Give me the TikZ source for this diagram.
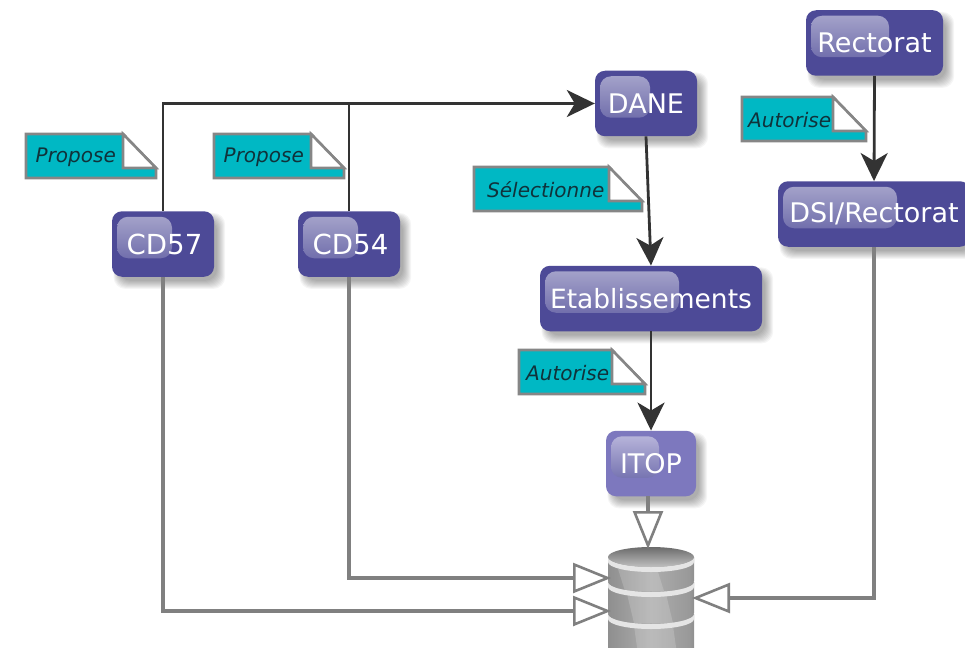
\documentclass[tikz,border=0pt]{standalone}
\usepackage{fontspec}
\setmainfont{DejaVu Sans}
\usetikzlibrary{arrows.meta,backgrounds,positioning}
\definecolor{boxblue}{HTML}{4D4A97}
\definecolor{boxlight}{HTML}{7D78BE}
\definecolor{notecyan}{HTML}{00B8C4}
\definecolor{notegrey}{HTML}{868686}
\definecolor{linegrey}{HTML}{808080}
\definecolor{linedark}{HTML}{333333}
\definecolor{notetextcol}{HTML}{10323A}
\pgfdeclarehorizontalshading{dbside}{100bp}{color(0bp)=(black!72); color(8bp)=(black!62); color(25bp)=(black!44); color(50bp)=(black!32); color(72bp)=(black!40); color(90bp)=(black!62); color(100bp)=(black!74)}
\tikzset{
  glossy/.style={path picture={
    \shade[top color=#1,bottom color=white!8!boxblue,rounded corners=11pt]
      ([shift={(5,5.5)}]path picture bounding box.north west) rectangle
      ([shift={(5+\glossw,47)}]path picture bounding box.north west);}},
  rolebox/.style={rounded corners=10pt,fill=boxblue,text=white,
    minimum height=65.5pt,inner sep=0pt,font=\fontsize{27}{30}\selectfont},
  flowline/.style={draw=linedark,line width=2.8pt,-{Stealth[length=28pt,width=27pt,inset=8pt]}},
  storeline/.style={draw=linegrey,line width=4pt,-{Triangle[open,length=38pt,width=30pt,line width=2.6pt,fill=white,color=linegrey]}},
  plainlink/.style={draw=linedark,line width=2.8pt},
  noteshape/.style={draw=notegrey,fill=notecyan,line width=2.6pt,line join=miter},
  notefold/.style={draw=notegrey,fill=white,line width=2.6pt,line join=miter},
  notetext/.style={anchor=west,inner sep=0pt,text=notetextcol,font=\fontsize{20}{24}\selectfont\itshape},
}
% name, x1, y1, x2, text offset, text
\newcommand{\notemark}[6]{%
  \draw[noteshape] (#2,#3) -- ({#4-33},#3) -- (#4,{#3+34}) -- (#4,{#3+44}) -- (#2,{#3+44}) -- cycle;
  \draw[notefold] ({#4-33},#3) -- (#4,{#3+34}) -- ({#4-33},{#3+34}) -- cycle;
  \node[notetext] (#1) at ({#2+#5},{#3+23}) {#6};}
% y of the top-ellipse edge, bottom y of the side edge, glare shift
\newcommand{\dbdisc}[3]{%
  \shade[shading=dbside] (608,#1) -- (608,#2) arc[x radius=43,y radius=10,start angle=180,end angle=0] -- (694,#1) -- cycle;
  \fill[white,opacity=.17] ({618+#3},{#1+12}) -- ({657+#3},{#1+12}) -- ({664+#3},{#2+10}) -- ({625+#3},{#2+10}) -- cycle;
  \fill[black!10] (608,#1) arc[x radius=43,y radius=10,start angle=180,end angle=0] -- (694,{#1+5}) arc[x radius=43,y radius=10,start angle=0,end angle=180] -- cycle;}
\newcommand{\softshade}[1]{%
  \foreach \e in {1,2,...,9}
    \fill[black,opacity=.04,rounded corners=12pt]
      ([shift={({8-0.7*\e},{9-0.8*\e})}]#1.north west) rectangle ([shift={({2+\e},{3+\e})}]#1.south east);}
\begin{document}
\begin{tikzpicture}[x=1pt,y=-1pt]
\useasboundingbox (0,0) rectangle (965,647);
\clip (0,0) rectangle (965,647);

% boxes
\def\glossw{55}
\node[rolebox,glossy=white!52!boxblue,minimum width=102pt,font=\fontsize{27.6}{30}\selectfont] (cd57) at (163,244) {\hspace*{3pt}CD57};
\node[rolebox,glossy=white!52!boxblue,minimum width=102pt,font=\fontsize{27.6}{30}\selectfont] (cd54) at (349,244) {\hspace*{3pt}CD54};
\def\glossw{50}
\node[rolebox,glossy=white!52!boxblue,minimum width=102pt] (dane) at (646,103.5) {DANE};
\def\glossw{78}
\node[rolebox,glossy=white!52!boxblue,minimum width=137pt] (rectorat) at (874.5,43) {Rectorat};
\def\glossw{114}
\node[rolebox,glossy=white!52!boxblue,minimum width=192pt] (dsi) at (874,214) {DSI/Rectorat};
\def\glossw{134}
\node[rolebox,glossy=white!52!boxblue,minimum width=222pt,font=\fontsize{26.5}{30}\selectfont] (etab) at (651,298.5) {Etablissements};
\def\glossw{48}
\node[rolebox,fill=boxlight,glossy=white!50!boxlight,minimum width=90pt] (itop) at (651,463.5) {ITOP};

\begin{scope}[on background layer]
  \fill[white] (0,0) rectangle (965,647);
  \softshade{cd57}\softshade{cd54}\softshade{dane}\softshade{rectorat}\softshade{dsi}\softshade{etab}\softshade{itop}
\end{scope}

% database
\coordinate (dbtop) at (648,549);
\coordinate (dbleftA) at (611,578);
\coordinate (dbleftB) at (611,611);
\coordinate (dbright) at (692,598);
\dbdisc{614}{665}{16}
\dbdisc{582}{613}{9}
\dbdisc{557}{581}{0}
\shade[top color=black!58,bottom color=black!25] (651,557) ellipse[x radius=43,y radius=10];

% flows
\draw[plainlink] (cd57.north) |- (cd54.north |- dane.west);
\draw[flowline] (cd54.north) |- (dane.west);
\draw[flowline] (dane.south) -- (etab.north);
\draw[flowline] (etab.south) -- (itop.north);
\draw[flowline] (rectorat.south) -- (dsi.north);

% store links
\draw[storeline] (itop.south -| dbtop) -- (dbtop);
\draw[storeline] (cd54.south) |- (dbleftA);
\draw[storeline] (cd57.south) |- (dbleftB);
\draw[storeline] (dsi.south) |- (dbright);

% notes
\notemark{n1}{26}{134}{156}{9.5}{Propose}
\notemark{n2}{214}{134}{344}{9.5}{Propose}
\notemark{n3}{474}{167}{642}{13}{Sélectionne}
\notemark{n4}{519}{350}{645}{7}{Autorise}
\notemark{n5}{742}{97}{866}{6}{Autorise}
\end{tikzpicture}
\end{document}
